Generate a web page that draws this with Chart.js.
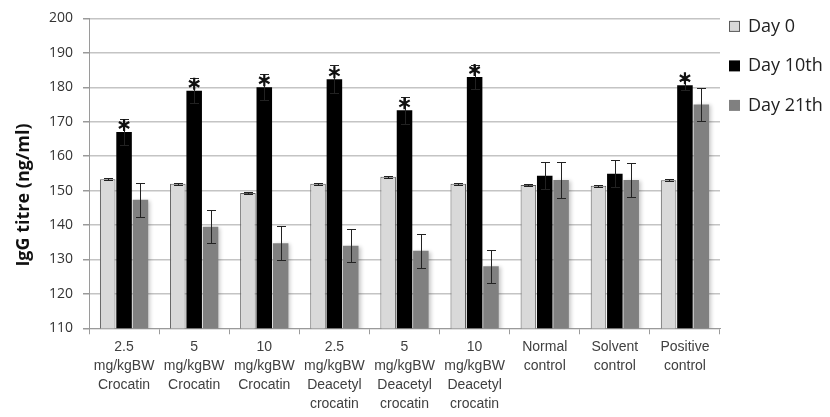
<!DOCTYPE html>
<html>
<head>
<meta charset="utf-8">
<script src="https://cdn.jsdelivr.net/npm/chart.js@4"></script>
<style>
  html, body { margin: 0; padding: 0; background: #fff; }
  #wrap { width: 830px; height: 417px; }
</style>
</head>
<body>
<div id="wrap"><canvas id="igg"></canvas></div>
<script>
// ---- data ----
const groups = [
    ['2.5', 'mg/kgBW', 'Crocatin'],
    ['5', 'mg/kgBW', 'Crocatin'],
    ['10', 'mg/kgBW', 'Crocatin'],
    ['2.5', 'mg/kgBW', 'Deacetyl', 'crocatin'],
    ['5', 'mg/kgBW', 'Deacetyl', 'crocatin'],
    ['10', 'mg/kgBW', 'Deacetyl', 'crocatin'],
    ['Normal', 'control'],
    ['Solvent', 'control'],
    ['Positive', 'control']
];
const day0 = [153.3, 152.0, 149.3, 152.0, 154.0, 152.0, 151.6, 151.4, 153.0];
const day0Err = [0.3, 0.3, 0.3, 0.3, 0.3, 0.3, 0.3, 0.3, 0.3];
const day10 = [167.0, 179.0, 180.0, 182.3, 173.3, 183.0, 154.3, 154.9, 180.6];
const day10Err = [3.9, 3.7, 3.8, 4.1, 4.0, 3.5, 3.9, 3.9, 1.5];
const day21 = [147.3, 139.5, 134.7, 134.0, 132.5, 128.0, 153.1, 153.1, 175.0];
const day21Err = [4.9, 4.8, 4.9, 4.8, 5.0, 4.8, 5.2, 5.0, 4.9];
const significant = [true, true, true, true, true, true, false, false, true];
const yTicks = [110, 120, 130, 140, 150, 160, 170, 180, 190, 200];
const yTitle = 'IgG titre (ng/ml)';

// soft shadow behind the Day 21th bars
const barShadow = {
    id: 'barShadow',
    beforeDatasetDraw(chart, args) {
        if (args.index !== 2) return;
        const c = chart.ctx;
        c.save();
        c.shadowColor = 'rgba(0,0,0,0.22)';
        c.shadowBlur = 4;
        c.shadowOffsetX = 2;
        c.shadowOffsetY = 1;
    },
    afterDatasetDraw(chart, args) {
        if (args.index === 2) chart.ctx.restore();
    }
};

// error bars drawn from dataset.errors through the y scale
const errorBars = {
    id: 'errorBars',
    afterDatasetsDraw(chart) {
        const c = chart.ctx;
        const y = chart.scales.y;
        c.save();
        c.strokeStyle = '#222';
        c.lineWidth = 1;
        chart.data.datasets.forEach((ds, i) => {
            const meta = chart.getDatasetMeta(i);
            meta.data.forEach((bar, j) => {
                const v = ds.data[j], e = ds.errors[j];
                const top = Math.round(y.getPixelForValue(v + e)) + 0.5;
                const bot = Math.round(y.getPixelForValue(v - e)) + 0.5;
                const x = Math.round(bar.x) + 0.5;
                c.beginPath();
                c.moveTo(x, top); c.lineTo(x, bot);
                c.moveTo(x - 4.5, top); c.lineTo(x + 4.5, top);
                c.moveTo(x - 4.5, bot); c.lineTo(x + 4.5, bot);
                c.stroke();
            });
        });
        c.restore();
    }
};

// asterisks above the Day 10th bars
const stars = {
    id: 'stars',
    afterDatasetsDraw(chart) {
        const c = chart.ctx;
        const meta = chart.getDatasetMeta(1);
        c.save();
        c.strokeStyle = '#111';
        c.lineWidth = 2.2;
        meta.data.forEach((bar, j) => {
            if (!significant[j]) return;
            const cx = bar.x, cy = bar.y - 7, r = 6;
            c.beginPath();
            for (let k = 0; k < 3; k++) {
                const a = Math.PI / 2 + k * Math.PI / 3;
                c.moveTo(cx + r * Math.cos(a), cy - r * Math.sin(a));
                c.lineTo(cx - r * Math.cos(a), cy + r * Math.sin(a));
            }
            c.stroke();
        });
        c.restore();
    }
};

// legend on the right + rotated axis title
const sideText = {
    id: 'sideText',
    afterDraw(chart) {
        const c = chart.ctx;
        const area = chart.chartArea;
        c.save();
        c.font = '18px "Open Sans"';
        c.textBaseline = 'middle';
        chart.data.datasets.forEach((ds, i) => {
            const bx = area.right + 9, cy = area.top + 8 + i * 39.5;
            c.fillStyle = ds.backgroundColor;
            c.fillRect(bx, cy - 5.5, 11, 11);
            if (ds.borderWidth) {
                c.strokeStyle = ds.borderColor;
                c.lineWidth = 1;
                c.strokeRect(bx + 0.5, cy - 5, 10, 10);
            }
            c.fillStyle = '#222';
            c.fillText(ds.label, bx + 19, cy);
        });
        c.translate(24, 195);
        c.rotate(-Math.PI / 2);
        c.font = 'bold 18px "Open Sans"';
        c.textAlign = 'center';
        c.fillStyle = '#111';
        c.fillText(yTitle, 0, 0);
        c.restore();
    }
};

const ctx = document.getElementById('igg').getContext('2d');
new Chart(ctx, {
    type: 'bar',
    data: {
        labels: groups,
        datasets: [
            { label: 'Day 0', data: day0, errors: day0Err, backgroundColor: '#d9d9d9', borderColor: '#5a5a5a', borderWidth: 1 },
            { label: 'Day 10th', data: day10, errors: day10Err, backgroundColor: '#000000', borderColor: '#000000', borderWidth: 0 },
            { label: 'Day 21th', data: day21, errors: day21Err, backgroundColor: '#808080', borderColor: '#808080', borderWidth: 0 }
        ]
    },
    options: {
        responsive: true,
        maintainAspectRatio: false,
        animation: false,
        datasets: { bar: { categoryPercentage: 0.7, barPercentage: 0.95 } },
        layout: { padding: { top: 6, left: 39, right: 110, bottom: 0 } },
        plugins: {
            legend: { display: false },
            tooltip: { enabled: false }
        },
        scales: {
            x: {
                grid: { drawOnChartArea: false, drawTicks: true, tickLength: 6, offset: true, color: '#9a9a9a' },
                border: { color: '#9a9a9a', width: 1 },
                ticks: { color: '#404040', padding: 3, maxRotation: 0, autoSkip: false, font: { family: 'Liberation Sans', size: 14, lineHeight: 1.37 } }
            },
            y: {
                min: 110, max: 200,
                afterBuildTicks: axis => { axis.ticks = yTicks.map(v => ({ value: v })); },
                grid: { color: '#c4c4c4', lineWidth: 1.5, tickLength: 6, tickColor: '#9a9a9a' },
                border: { color: '#9a9a9a', width: 1 },
                ticks: { color: '#333', padding: 10, font: { family: 'Open Sans', size: 14 } }
            }
        }
    },
    plugins: [barShadow, errorBars, stars, sideText]
});
</script>
</body>
</html>
